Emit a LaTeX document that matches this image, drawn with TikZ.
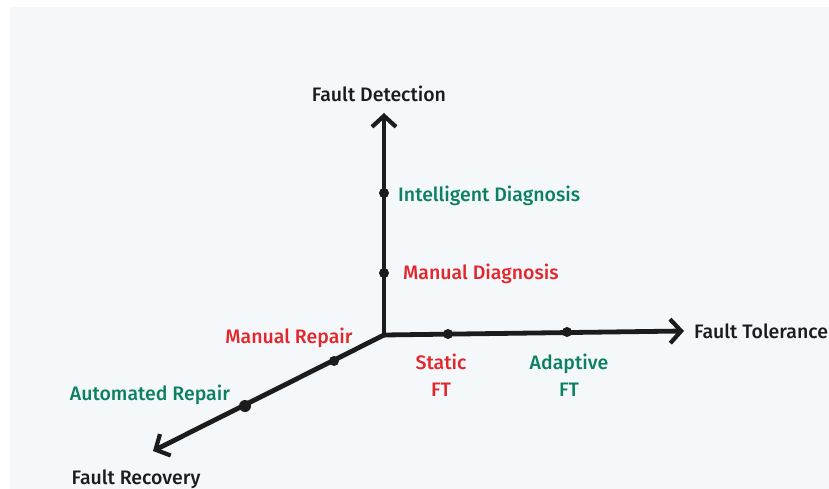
\documentclass[tikz,border=0pt]{standalone}
\usepackage{fontspec}
\setmainfont{Fira Sans}[UprightFont=* Medium, BoldFont=* SemiBold]
\usetikzlibrary{arrows.meta}
\definecolor{panel}{HTML}{F5F8FB}
\definecolor{ink}{HTML}{1C1C1C}
\definecolor{lowred}{HTML}{E2262C}
\definecolor{highgreen}{HTML}{0B8062}
\tikzset{
  axis/.style={draw=ink, line width=4.8pt, line cap=round,
    -{Straight Barb[length=11pt, width=24pt, line width=4.2pt]}},
  tick/.style={circle, fill=ink, inner sep=0pt, minimum size=10pt},
  bigtick/.style={circle, fill=ink, inner sep=0pt, minimum size=12pt},
  labelfont/.style={font=\fontsize{19.5}{27}\selectfont, inner sep=0pt},
  axislabel/.style={labelfont, text=ink},
  lowlabel/.style={labelfont, text=lowred},
  highlabel/.style={labelfont, text=highgreen},
}
\begin{document}
\begin{tikzpicture}[x=1pt, y=-1pt]
  % page and panel
  \fill[white] (0,0) rectangle (829,489);
  \fill[panel] (10,7) rectangle (829,489);
  \useasboundingbox (0,0) rectangle (829,489);

  % axis ends
  \coordinate (O) at (384,335);
  \coordinate (detect) at (384,113);
  \coordinate (toler) at (684,331);
  \coordinate (recov) at (153,451);

  \draw[axis] (O) -- (detect);
  \draw[axis] (O) -- (toler);
  \draw[axis] (O) -- (recov);

  % ticks
  \node[tick] (intdiag) at (384,193) {};
  \node[tick] (mandiag) at (384,273) {};
  \node[tick] (statft) at (448,334) {};
  \node[tick] (adaft) at (567,332) {};
  \node[tick] (manrep) at (334,361) {};
  \node[bigtick] (autorep) at (245,406) {};

  % axis titles
  \node[axislabel] (tdetect) at (379,94) {Fault Detection};
  \node[axislabel, anchor=west] (ttoler) at (694,331) {Fault Tolerance};
  \node[axislabel] (trecov) at (136,479) {Fault Recovery};

  % level labels
  \node[highlabel, anchor=west] (lintdiag) at (398,196) {Intelligent Diagnosis};
  \node[lowlabel, anchor=west] (lmandiag) at (403,274) {Manual Diagnosis};
  \node[lowlabel, align=center] (lstatft) at (441,375) {Static\\FT};
  \node[highlabel, align=center] (ladaft) at (569,375) {Adaptive\\FT};
  \node[lowlabel] (lmanrep) at (289,338) {Manual Repair};
  \node[highlabel] (lautorep) at (150,395) {Automated Repair};
\end{tikzpicture}
\end{document}
